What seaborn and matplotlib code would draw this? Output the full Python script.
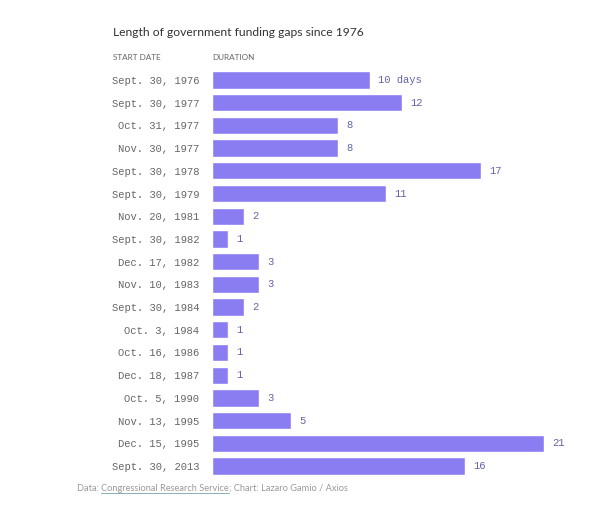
import matplotlib
matplotlib.use("Agg")
import matplotlib.pyplot as plt
import seaborn as sns
import pandas as pd
from matplotlib.lines import Line2D

start_dates = ["Sept. 30, 1976", "Sept. 30, 1977", "Oct. 31, 1977", "Nov. 30, 1977",
               "Sept. 30, 1978", "Sept. 30, 1979", "Nov. 20, 1981", "Sept. 30, 1982",
               "Dec. 17, 1982", "Nov. 10, 1983", "Sept. 30, 1984", "Oct. 3, 1984",
               "Oct. 16, 1986", "Dec. 18, 1987", "Oct. 5, 1990", "Nov. 13, 1995",
               "Dec. 15, 1995", "Sept. 30, 2013"]
durations = [10, 12, 8, 8, 17, 11, 2, 1, 3, 3, 2, 1, 1, 1, 3, 5, 21, 16]

title = "Length of government funding gaps since 1976"
col_headers = ["START DATE", "DURATION"]

sns.set_theme(style="white")
W, H = 600, 517
fig = plt.figure(figsize=(W / 100, H / 100), dpi=100)
fig.patch.set_facecolor("white")

def fx(px):
    return px / W

def fy(py):
    return 1 - py / H

ax_left, ax_right = 212, 544
ax_top, ax_bot = 68.6, 477.4
ax = fig.add_axes([fx(ax_left), fy(ax_bot), fx(ax_right - ax_left), (ax_bot - ax_top) / H])

df = pd.DataFrame({"date": start_dates, "days": durations})
bar_color = "#8a7df2"
sns.barplot(data=df, x="days", y="date", color=bar_color, saturation=1, width=0.76,
            orient="h", ax=ax, order=start_dates)

ax.set_xlim(0, 21)
ax.set_ylim(len(start_dates) - 0.5, -0.5)
ax.set_xlabel("")
ax.set_ylabel("")
ax.set_xticks([])
for s in ax.spines.values():
    s.set_visible(False)
ax.tick_params(axis="y", length=0, pad=9)
for lbl in ax.get_yticklabels():
    lbl.set_fontfamily("Liberation Mono")
    lbl.set_fontsize(7.6)
    lbl.set_color("#666666")

for i, v in enumerate(durations):
    txt = f"{v} days" if i == 0 else str(v)
    ax.annotate(txt, xy=(v, i), xytext=(6, 0), textcoords="offset points",
                va="center", ha="left", fontsize=7.6, family="Liberation Mono",
                color="#6464a8")

fig.text(fx(113), fy(32), title, fontsize=8.7, family="Lato", color="#333333",
         ha="left", va="center")
fig.text(fx(113), fy(57), col_headers[0], fontsize=5.9, family="Lato", color="#666666",
         ha="left", va="center")
fig.text(fx(212), fy(57), col_headers[1], fontsize=5.9, family="Lato", color="#666666",
         ha="left", va="center")

# footer with underlined link
fcol = "#999999"
t1 = fig.text(fx(77), fy(491), "Data: ", fontsize=6.7, family="Lato", color=fcol,
              ha="left", va="baseline")
t2 = fig.text(0, 0, "Congressional Research Service", fontsize=6.7, family="Lato",
              color=fcol, ha="left", va="baseline")
t3 = fig.text(0, 0, "; Chart: Lazaro Gamio / Axios", fontsize=6.7, family="Lato",
              color=fcol, ha="left", va="baseline")
fig.canvas.draw()
r = fig.canvas.get_renderer()
b1 = t1.get_window_extent(r)
t2.set_position((b1.x1 / W, fy(491)))
fig.canvas.draw()
b2 = t2.get_window_extent(r)
t3.set_position((b2.x1 / W, fy(491)))
base_y = fy(491) - 2.0 / H
fig.add_artist(Line2D([b2.x0 / W, b2.x1 / W], [base_y, base_y], color="#88b0b8",
                      lw=0.7, transform=fig.transFigure))

fig.savefig("out.png", dpi=100, facecolor="white")
